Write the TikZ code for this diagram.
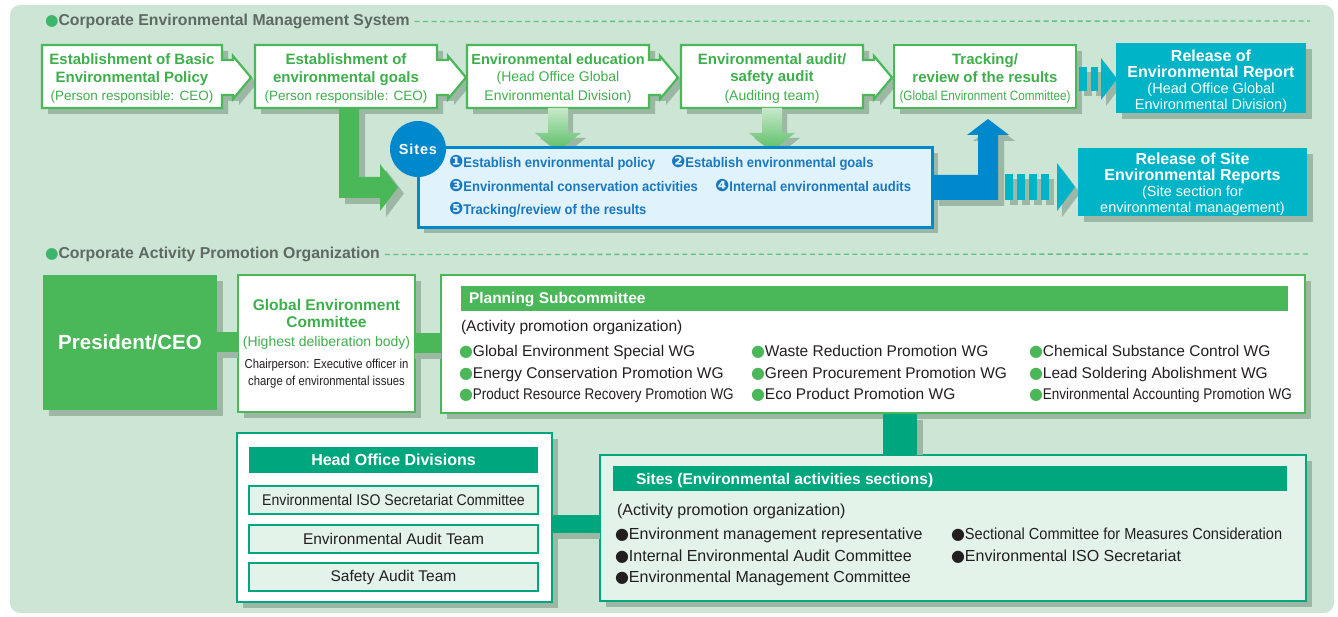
\documentclass[tikz,border=0pt]{standalone}
\usepackage{fontspec}
\setmainfont{Liberation Sans}
\newfontfamily\cnd[FakeStretch=0.87]{Liberation Sans}
\newfontfamily\cndc[FakeStretch=0.91]{Liberation Sans}
\newfontfamily\cndb[FakeStretch=0.93]{Liberation Sans}
\newfontfamily\djv{DejaVu Sans}
\usetikzlibrary{shadows}
\definecolor{bgc}{HTML}{CCE5D4}
\definecolor{grn}{HTML}{4AB758}
\definecolor{tgrn}{HTML}{3FAE4C}
\definecolor{dtl}{HTML}{00A67D}
\definecolor{cyn}{HTML}{00B4C8}
\definecolor{blu}{HTML}{0088CD}
\definecolor{bltx}{HTML}{1A78C2}
\definecolor{lblu}{HTML}{E0F2FA}
\definecolor{shd}{HTML}{9CB8A4}
\definecolor{gtx}{HTML}{5F6964}
\definecolor{dotg}{HTML}{3DB66B}
\definecolor{dashc}{HTML}{63C182}
\definecolor{lgr}{HTML}{E3F3E9}
\definecolor{txk}{HTML}{231F20}
\definecolor{arl}{HTML}{C8E8CA}
\definecolor{ard}{HTML}{58BD63}
\newcommand\fs[2]{\fontsize{#1}{#2}\selectfont}
\newcommand\gdot{{\color{grn}\djv\fs{16}{16}●}}
\newcommand\kdot{{\color{txk}\djv\fs{16}{16}●}}
\newcommand\tdot{{\color{dotg}\djv\fs{15.5}{15}●}}
\newcommand\cn[1]{{\djv\fs{17}{16}#1}}
\newcommand\tabpath[2]{(#1,45) -- (#2,45) -- (#2,60) -- (#2+11,60) -- (#2+11,56) -- (#2+29,77.5) -- (#2+11,99) -- (#2+11,95) -- (#2,95) -- (#2,108) -- (#1,108) -- cycle}
\newcommand\downarr[1]{(#1-10,108) -- (#1+10,108) -- (#1+10,133) -- (#1+23,133) -- (#1,151) -- (#1-23,133) -- (#1-10,133) -- cycle}
\newcommand\larrow{(339,108) -- (359,108) -- (359,177) -- (380,177) -- (380,164) -- (398,187.5) -- (380,211) -- (380,198) -- (339,198) -- cycle}
\newcommand\barrow{(933,175) -- (978,175) -- (978,135) -- (967,135) -- (988,119) -- (1009,135) -- (998,135) -- (998,200) -- (933,200) -- cycle}
\begin{document}
\begin{tikzpicture}[x=1pt,y=-1pt,
 every node/.style={inner sep=0pt,outer sep=0pt},
 shdw/.style={drop shadow={shadow xshift=6pt,shadow yshift=-6pt,fill=shd,opacity=1}},
 topbox/.style={minimum width=180,minimum height=63,align=center,text=tgrn,font=\fs{15}{17.5}},
 tabshape/.style={fill=white,draw=grn,line width=2.2},
 relbox/.style={fill=cyn,shdw},
 reltext/.style={text=white,align=center,font=\fs{16}{16}},
 ttl/.style={anchor=west,text=gtx,font=\bfseries\fs{15.8}{17}},
 dashln/.style={draw=dashc,line width=1.3,dash pattern=on 5pt off 3.5pt},
 item/.style={anchor=base west,text=txk,font=\fs{15.5}{18}},
 sitem/.style={anchor=base west,text=bltx,font=\cndb\bfseries\fs{14}{16}},
 hdr/.style={text=white,font=\bfseries\fs{15.5}{18}},
 subbox/.style={fill=lgr,draw=dtl,line width=2,minimum width=289,minimum height=28,font=\fs{15.5}{17},text=txk},
]
\useasboundingbox (0,0) rectangle (1338,617);
\fill[white] (0,0) rectangle (1338,617);
\fill[bgc,rounded corners=10] (10,5) rectangle (1334,613);

% ---------- section 1 ----------
\node[ttl] (t1) at (45,21.5) {\tdot Corporate Environmental Management System};
\coordinate (t1e) at (1310,21);
\draw[dashln] ([xshift=5pt]t1.east) -- (t1e);

\foreach \a/\b in {42/222,255/437,467/649,681/863} {
  \fill[shd,shift={(6,6)}] \tabpath{\a}{\b};
  \filldraw[tabshape] \tabpath{\a}{\b};
}
\node[topbox] (b1) at (132,78.5) {\bfseries Establishment of Basic\\\bfseries Environmental Policy\\[1pt]\fs{13.5}{16}(Person responsible: CEO)};
\node[topbox] (b2) at (346,78.5) {\bfseries Establishment of\\\bfseries environmental goals\\[1pt]\fs{13.5}{16}(Person responsible: CEO)};
\node[topbox] (b3) at (558,78.5) {\bfseries\fs{14.5}{17.5}Environmental education\\\fs{14}{16}(Head Office Global\\[1.5pt]\fs{14}{16}Environmental Division)};
\node[topbox] (b4) at (772,78.5) {\bfseries Environmental audit/\\\bfseries safety audit\\[1pt]\fs{14}{16}(Auditing team)};
\node[fill=white,draw=grn,line width=2.2,minimum width=182,minimum height=63,shdw] (b5) at (985,76.5) {};
\node[topbox] (b5t) at (985,78.5) {\bfseries Tracking/\\\bfseries review of the results\\[1pt]\cnd\fs{13.5}{16}(Global Environment Committee)};

% down arrows
\foreach \c in {558,772} {
  \fill[shd,shift={(5,5)}] \downarr{\c};
  \shade[top color=arl,bottom color=ard] \downarr{\c};
}

% release 1 with dashed arrow
\foreach \s/\e in {1079/1087,1091/1098} {
  \fill[shd] (\s+5,72) rectangle (\e+5,96);
  \fill[cyn] (\s,67) rectangle (\e,91);
}
\fill[shd] (1106,64) -- (1122,85) -- (1106,106) -- cycle;
\fill[cyn] (1101,58) -- (1117,79) -- (1101,100) -- cycle;
\node[relbox,minimum width=190,minimum height=70] (rel1) at (1211,78) {};
\node[reltext] (rel1t) at (1211,81) {\bfseries Release of\\\bfseries Environmental Report\\\fs{14.5}{16}(Head Office Global\\\fs{14.5}{16}Environmental Division)};

% green L arrow
\fill[shd,shift={(6,6)}] \larrow;
\fill[grn] \larrow;

% sites box
\node[fill=lblu,draw=blu,line width=3,minimum width=514,minimum height=80,shdw] (sites) at (675,187.5) {};
\node[circle,fill=blu,minimum size=56,text=white,font=\bfseries\fs{14.5}{16}] (sitec) at (418,149) {\addfontfeature{LetterSpace=6}Sites};
\node[sitem] (s1) at (449,168) {\cn{❶}Establish environmental policy};
\node[sitem] (s2) at (671,168) {\cn{❷}Establish environmental goals};
\node[sitem] (s3) at (449,192) {\cn{❸}Environmental conservation activities};
\node[sitem] (s4) at (715,192) {\cn{❹}Internal environmental audits};
\node[sitem] (s5) at (449,215) {\cn{❺}Tracking/review of the results};

% blue arrow
\fill[shd,shift={(6,6)}] \barrow;
\fill[blu] \barrow;

% release 2 with dashed arrow
\foreach \s in {1005,1017,1029,1041} {
  \fill[shd] (\s+5,179) rectangle (\s+13,205);
  \fill[cyn] (\s,174) rectangle (\s+8,200);
}
\fill[shd] (1062,169) -- (1080,193) -- (1062,217) -- cycle;
\fill[cyn] (1057,163) -- (1075,187) -- (1057,211) -- cycle;
\node[relbox,minimum width=229,minimum height=68] (rel2) at (1192.5,182) {};
\node[reltext] (rel2t) at (1192.5,184.5) {\bfseries Release of Site\\\bfseries Environmental Reports\\\fs{14.5}{16}(Site section for\\\fs{14.5}{16}environmental management)};

% ---------- section 2 ----------
\node[ttl] (t2) at (45,254.5) {\tdot Corporate Activity Promotion Organization};
\coordinate (t2e) at (1310,254);
\draw[dashln] ([xshift=5pt]t2.east) -- (t2e);

\node[fill=grn,minimum width=174,minimum height=135,text=white,font=\bfseries\fs{20.5}{24},shdw] (pres) at (130,342.5) {President/CEO};

\node[fill=white,draw=grn,line width=2.2,minimum width=177,minimum height=137,align=center,shdw,font=\fs{15.5}{17}] (gec) at (326.5,343.5)
  {\color{tgrn}\bfseries Global Environment\\\color{tgrn}\bfseries Committee\\[2pt]\color{tgrn}\fs{14}{17}(Highest deliberation body)\\[5pt]\color{txk}\cnd\fs{13}{17}Chairperson: Executive officer in\\\color{txk}\cnd\fs{13}{17}charge of environmental issues};

\node[fill=white,draw=grn,line width=2.2,minimum width=864,minimum height=138,shdw] (plan) at (873,344) {};
\node[fill=grn,minimum width=827,minimum height=25] (planh) at (874.5,298.5) {};
\node[hdr,anchor=base west] (plant) at (469,304) {Planning Subcommittee};
\node[item] (pa) at (461,331.5) {(Activity promotion organization)};
\node[item] (p11) at (459,356.5) {\gdot Global Environment Special WG};
\node[item] (p12) at (459,378.5) {\gdot Energy Conservation Promotion WG};
\node[item] (p13) at (459,399.5) {\gdot{\cnd Product Resource Recovery Promotion WG}};
\node[item] (p21) at (751,356.5) {\gdot Waste Reduction Promotion WG};
\node[item] (p22) at (751,378.5) {\gdot Green Procurement Promotion WG};
\node[item] (p23) at (751,399.5) {\gdot Eco Product Promotion WG};
\node[item] (p31) at (1029,356.5) {\gdot Chemical Substance Control WG};
\node[item] (p32) at (1029,378.5) {\gdot Lead Soldering Abolishment WG};
\node[item] (p33) at (1029,399.5) {\gdot{\cnd Environmental Accounting Promotion WG}};

\node[fill=lgr,draw=dtl,line width=2,minimum width=706,minimum height=146,shdw] (sites2) at (953,528) {};
\node[fill=dtl,minimum width=674,minimum height=25] (sitesh) at (950,478.5) {};
\node[hdr,anchor=base west] (sitest) at (636,484.5) {Sites (Environmental activities sections)};
\node[item,font=\fs{16}{18}] (sa) at (617,515.5) {(Activity promotion organization)};
\node[item,font=\fs{16}{18}] (q11) at (615,539.5) {\kdot Environment management representative};
\node[item,font=\fs{16}{18}] (q12) at (615,561.5) {\kdot Internal Environmental Audit Committee};
\node[item,font=\fs{16}{18}] (q13) at (615,582.5) {\kdot Environmental Management Committee};
\node[item,font=\fs{16}{18}] (q21) at (951,539.5) {\kdot{\cndc Sectional Committee for Measures Consideration}};
\node[item,font=\fs{16}{18}] (q22) at (951,561.5) {\kdot Environmental ISO Secretariat};

\node[fill=white,draw=dtl,line width=2,minimum width=315,minimum height=169,shdw] (hod) at (394.5,517.5) {};
\node[fill=dtl,minimum width=289,minimum height=26,hdr,font=\bfseries\fs{16}{17}] (hodh) at (393.5,460) {Head Office Divisions};
\node[subbox] (h1) at (393.5,500) {\cndc Environmental ISO Secretariat Committee};
\node[subbox] (h2) at (393.5,538.5) {Environmental Audit Team};
\node[subbox] (h3) at (393.5,577) {Safety Audit Team};

% connectors
\draw[shd,line width=6] ([yshift=-13pt]pres.east) -- ([yshift=-13pt]pres.east -| gec.west);
\draw[grn,line width=20,shorten >=1.1pt] (pres.east) -- (pres.east -| gec.west);
\draw[shd,line width=6] ([yshift=-13pt]gec.east) -- ([yshift=-13pt]gec.east -| plan.west);
\draw[grn,line width=20,shorten <=1.1pt,shorten >=1.1pt] (gec.east) -- (gec.east -| plan.west);
\coordinate (pc) at (900,0);
\coordinate (pcs) at (920,0);
\draw[shd,line width=6] ([yshift=-7pt]plan.south -| pcs) -- (sites2.north -| pcs);
\draw[dtl,line width=34,shorten <=1.1pt,shorten >=1pt] (plan.south -| pc) -- (sites2.north -| pc);
\coordinate (hc) at (0,524);
\coordinate (hcs) at (0,536);
\draw[shd,line width=6] ([xshift=6pt]hod.east |- hcs) -- (sites2.west |- hcs);
\draw[dtl,line width=18,shorten <=1pt,shorten >=1pt] (hod.east |- hc) -- (sites2.west |- hc);
\end{tikzpicture}
\end{document}
